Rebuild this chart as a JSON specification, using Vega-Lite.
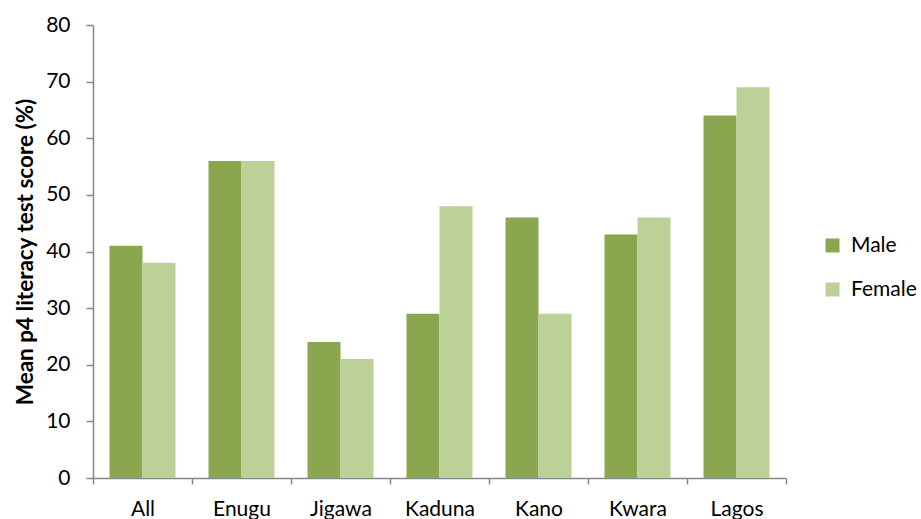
{
  "$schema": "https://vega.github.io/schema/vega-lite/v6.json",
  "width": 693,
  "height": 453,
  "autosize": "none",
  "padding": {"left": 93, "top": 25, "right": 135, "bottom": 41},
  "background": "white",
  "config": {
    "font": "Lato",
    "view": {"stroke": null},
    "axis": {"domainColor": "#878787", "tickColor": "#878787", "grid": false, "labelColor": "#000000", "titleColor": "#000000"}
  },
  "data": {
    "values": [
      {"state": "All", "sex": "Male", "score": 41},
      {"state": "All", "sex": "Female", "score": 38},
      {"state": "Enugu", "sex": "Male", "score": 56},
      {"state": "Enugu", "sex": "Female", "score": 56},
      {"state": "Jigawa", "sex": "Male", "score": 24},
      {"state": "Jigawa", "sex": "Female", "score": 21},
      {"state": "Kaduna", "sex": "Male", "score": 29},
      {"state": "Kaduna", "sex": "Female", "score": 48},
      {"state": "Kano", "sex": "Male", "score": 46},
      {"state": "Kano", "sex": "Female", "score": 29},
      {"state": "Kwara", "sex": "Male", "score": 43},
      {"state": "Kwara", "sex": "Female", "score": 46},
      {"state": "Lagos", "sex": "Male", "score": 64},
      {"state": "Lagos", "sex": "Female", "score": 69}
    ]
  },
  "mark": {"type": "bar"},
  "encoding": {
    "x": {
      "field": "state",
      "type": "nominal",
      "sort": null,
      "scale": {"paddingInner": 0, "paddingOuter": 0},
      "axis": {
        "title": null,
        "labelAngle": 0,
        "labelFontSize": 21,
        "labelPadding": 14,
        "tickSize": 6,
        "tickBand": "extent",
        "domainWidth": 1.5,
        "tickWidth": 1.5
      }
    },
    "xOffset": {
      "field": "sex",
      "type": "nominal",
      "sort": ["Male", "Female"],
      "scale": {"paddingInner": 0, "paddingOuter": 0.5}
    },
    "y": {
      "field": "score",
      "type": "quantitative",
      "scale": {"domain": [0, 80], "nice": false},
      "axis": {
        "title": "Mean p4 literacy test score (%)",
        "titleFontSize": 22.5,
        "titleFontWeight": "bold",
        "titlePadding": 8,
        "values": [0, 10, 20, 30, 40, 50, 60, 70, 80],
        "labelFontSize": 21,
        "labelPadding": 16,
        "tickSize": 7,
        "domainWidth": 1.5,
        "tickWidth": 1.5
      }
    },
    "color": {
      "field": "sex",
      "type": "nominal",
      "sort": ["Male", "Female"],
      "scale": {"domain": ["Male", "Female"], "range": ["#8aa64f", "#bbd198"]},
      "legend": {
        "title": null,
        "orient": "none",
        "legendX": 729,
        "legendY": 210,
        "symbolType": "square",
        "symbolSize": 196,
        "labelFontSize": 21,
        "labelColor": "#000000",
        "rowPadding": 22,
        "labelOffset": 8
      }
    }
  }
}
